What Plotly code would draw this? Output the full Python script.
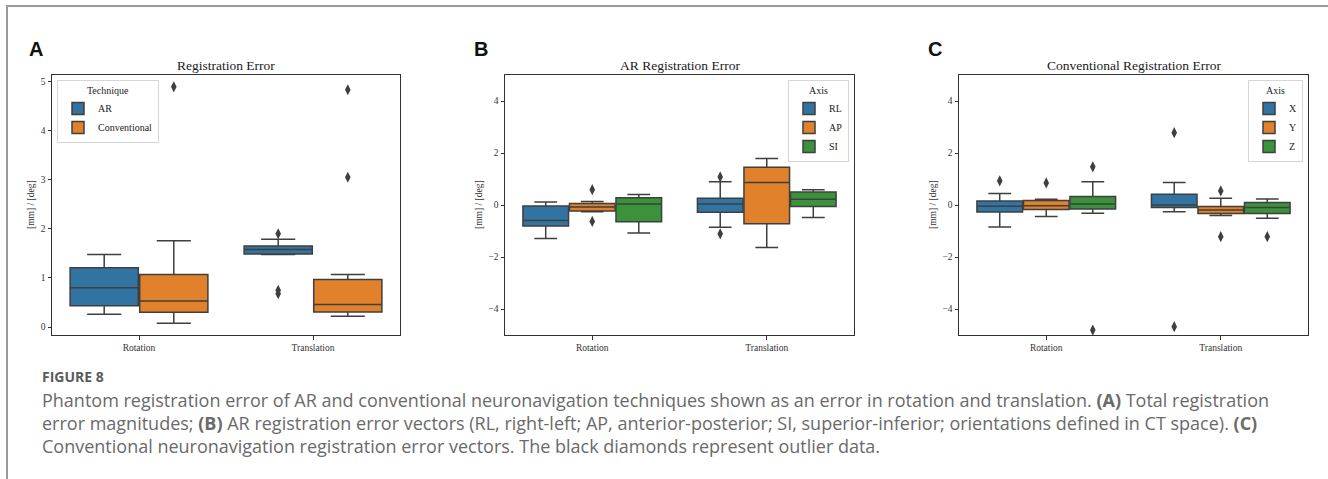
import plotly.graph_objects as go

W, H = 1328, 479

CATEGORIES = ['Rotation', 'Translation']

# stats per category: [lower whisker, Q1, median, Q3, upper whisker]
# Panel A - Technique
A_HUES = ['AR', 'Conventional']
A_AR_STATS = [[0.26, 0.435, 0.80, 1.21, 1.48], [1.48, 1.49, 1.58, 1.65, 1.79]]
A_AR_OUT = [[], [1.90, 0.75, 0.68]]
A_CONV_STATS = [[0.08, 0.30, 0.53, 1.07, 1.76], [0.22, 0.31, 0.46, 0.97, 1.07]]
A_CONV_OUT = [[4.89], [3.05, 4.83]]

# Panel B - AR axis
B_HUES = ['RL', 'AP', 'SI']
B_RL_STATS = [[-1.29, -0.81, -0.60, -0.04, 0.12], [-0.86, -0.28, 0.04, 0.26, 0.89]]
B_RL_OUT = [[], [1.08, -1.11]]
B_AP_STATS = [[-0.26, -0.23, -0.08, 0.06, 0.13], [-1.63, -0.72, 0.87, 1.45, 1.79]]
B_AP_OUT = [[0.59, -0.63], []]
B_SI_STATS = [[-1.08, -0.64, 0.04, 0.28, 0.40], [-0.48, -0.06, 0.22, 0.50, 0.59]]
B_SI_OUT = [[], []]

# Panel C - Conventional axis
C_HUES = ['X', 'Y', 'Z']
C_X_STATS = [[-0.85, -0.27, -0.05, 0.15, 0.44], [-0.26, -0.10, 0.00, 0.41, 0.87]]
C_X_OUT = [[0.93], [2.78, -4.68]]
C_Y_STATS = [[-0.44, -0.17, -0.03, 0.17, 0.22], [-0.40, -0.33, -0.19, -0.06, 0.26]]
C_Y_OUT = [[0.85], [0.54, -1.22]]
C_Z_STATS = [[-0.32, -0.15, 0.04, 0.33, 0.89], [-0.51, -0.33, -0.10, 0.10, 0.23]]
C_Z_OUT = [[1.47, -4.81], [-1.22]]

TITLES = ['Registration Error', 'AR Registration Error', 'Conventional Registration Error']
LEGEND_TITLES = ['Technique', 'Axis', 'Axis']
PANEL_LETTERS = ['A', 'B', 'C']
Y_LABEL = '[mm] / [deg]'

CAPTION_HEAD = 'FIGURE 8'
CAPTION_LINES = [
    'Phantom registration error of AR and conventional neuronavigation techniques shown as an error in rotation and translation. <b>(A)</b> Total registration',
    'error magnitudes; <b>(B)</b> AR registration error vectors (RL, right-left; AP, anterior-posterior; SI, superior-inferior; orientations defined in CT space). <b>(C)</b>',
    'Conventional neuronavigation registration error vectors. The black diamonds represent outlier data.',
]

COLORS = ['#3274a1', '#e1812c', '#3a923a']
LINE = '#3f3f3f'
SERIF = 'Liberation Serif'

# pixel layout
AX_X = [(52, 400), (505, 854), (959, 1308)]
AX_Y = (75, 335)
LEG = [dict(x=57, xanchor='left'), dict(x=849, xanchor='right'), dict(x=1303, xanchor='right')]
YLAB_X = [31, 479, 933]
LETTER_X = [36, 481, 935]

panels = [
    (A_HUES, [A_AR_STATS, A_CONV_STATS], [A_AR_OUT, A_CONV_OUT], None),
    (B_HUES, [B_RL_STATS, B_AP_STATS, B_SI_STATS], [B_RL_OUT, B_AP_OUT, B_SI_OUT], (-5, 5)),
    (C_HUES, [C_X_STATS, C_Y_STATS, C_Z_STATS], [C_X_OUT, C_Y_OUT, C_Z_OUT], (-5, 5)),
]

fig = go.Figure()
layout = dict(width=W, height=H, margin=dict(l=0, r=0, t=0, b=0), autosize=False,
              paper_bgcolor='white', plot_bgcolor='white', boxmode='overlay',
              showlegend=True)
annotations = []

def px(x):
    return x / W

def py(y):
    return 1 - y / H

for p, (hues, stats_list, out_list, ylim) in enumerate(panels):
    suffix = '' if p == 0 else str(p + 1)
    xref = 'x' + suffix
    yref = 'y' + suffix
    legname = 'legend' + suffix
    n = len(hues)
    step = 0.8 / n
    allvals = []
    for h, hue in enumerate(hues):
        off = (h - (n - 1) / 2) * step
        stats = stats_list[h]
        xs = [i + off for i in range(len(CATEGORIES))]
        fig.add_trace(go.Box(
            x=xs,
            lowerfence=[s[0] for s in stats], q1=[s[1] for s in stats],
            median=[s[2] for s in stats], q3=[s[3] for s in stats],
            upperfence=[s[4] for s in stats],
            width=step * 0.98, whiskerwidth=0.5,
            fillcolor=COLORS[h], line=dict(color=LINE, width=1.5),
            boxpoints=False, name=hue, legend=legname,
            xaxis=xref, yaxis=yref, hoverinfo='skip'))
        ox, oy = [], []
        for i, outs in enumerate(out_list[h]):
            for v in outs:
                ox.append(i + off)
                oy.append(v)
        if oy:
            fig.add_trace(go.Scatter(
                x=ox, y=oy, mode='markers', showlegend=False,
                marker=dict(symbol='diamond-tall', size=8, color=LINE,
                            line=dict(width=0)),
                xaxis=xref, yaxis=yref, hoverinfo='skip'))
        for s in stats:
            allvals += [s[0], s[4]]
        for outs in out_list[h]:
            allvals += outs
    if ylim is None:
        lo, hi = min(allvals), max(allvals)
        pad = (hi - lo) * 0.05
        ylim = (lo - pad, hi + pad)
        dtick = 1
    else:
        dtick = 2

    x0, x1 = AX_X[p]
    axis_common = dict(showline=True, linecolor='#333333', linewidth=1, mirror=True,
                       showgrid=False, zeroline=False, ticks='outside', ticklen=3.5,
                       tickwidth=1, tickcolor='#333333',
                       tickfont=dict(family=SERIF, size=9.5, color='#333333'))
    layout['xaxis' + suffix] = dict(
        domain=[px(x0), px(x1)], anchor=yref, range=[-0.5, len(CATEGORIES) - 0.5],
        tickmode='array', tickvals=list(range(len(CATEGORIES))), ticktext=CATEGORIES,
        **axis_common)
    layout['yaxis' + suffix] = dict(
        domain=[py(AX_Y[1]), py(AX_Y[0])], anchor=xref, range=list(ylim),
        tick0=0, dtick=dtick, **axis_common)
    leg = LEG[p]
    layout[legname] = dict(
        x=px(leg['x']), xanchor=leg['xanchor'], y=py(80), yanchor='top',
        bgcolor='rgba(255,255,255,0.85)', bordercolor='#d6d6d6', borderwidth=1,
        font=dict(family=SERIF, size=10, color='#222222'),
        title=dict(text=LEGEND_TITLES[p], side='top center',
                   font=dict(family=SERIF, size=10, color='#222222')),
        tracegroupgap=0, itemwidth=30)

    annotations.append(dict(text=TITLES[p], x=px((x0 + x1) / 2), y=py(65), xref='paper', yref='paper',
                            xanchor='center', yanchor='middle', showarrow=False,
                            font=dict(family=SERIF, size=13.5, color='#1a1a1a')))
    annotations.append(dict(text=Y_LABEL, x=px(YLAB_X[p]), y=py((AX_Y[0] + AX_Y[1]) / 2), xref='paper', yref='paper',
                            xanchor='center', yanchor='middle', showarrow=False, textangle=-90,
                            font=dict(family=SERIF, size=9.5, color='#333333')))
    annotations.append(dict(text='<b>' + PANEL_LETTERS[p] + '</b>', x=px(LETTER_X[p]), y=py(49),
                            xref='paper', yref='paper', xanchor='center', yanchor='middle', showarrow=False,
                            font=dict(family='Liberation Sans', size=20, color='#111111')))

# caption
annotations.append(dict(text='<b>' + CAPTION_HEAD + '</b>', x=px(40), y=py(376), xref='paper', yref='paper',
                        xanchor='left', yanchor='middle', showarrow=False,
                        font=dict(family='Open Sans', size=14, color='#5a5a5a')))
for k, line in enumerate(CAPTION_LINES):
    annotations.append(dict(text=line, x=px(40), y=py(400 + 23 * k), xref='paper', yref='paper',
                            xanchor='left', yanchor='middle', showarrow=False,
                            font=dict(family='Open Sans', size=18, color='#6a6a6a')))

layout['annotations'] = annotations
layout['shapes'] = [dict(type='path', xref='paper', yref='paper',
                         path=f'M {px(7)},0 L {px(7)},{py(6)} L 1,{py(6)}',
                         line=dict(color='#9a9a9a', width=2))]
fig.update_layout(**layout)
fig.write_html('out.html')
